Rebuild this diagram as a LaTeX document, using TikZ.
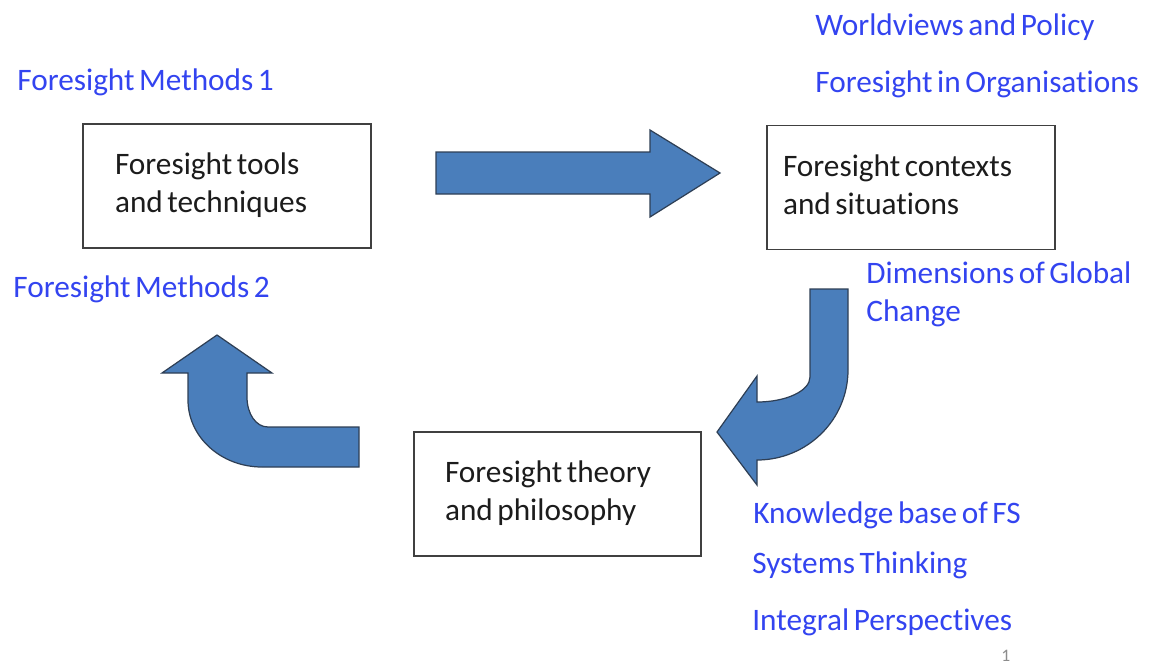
\documentclass[tikz,border=0pt]{standalone}
\usepackage{fontspec}
\setmainfont{Carlito}[Ligatures=NoCommon, WordSpace=0.65]
\usepackage{xcolor}
\usetikzlibrary{positioning}

\definecolor{topicblue}{HTML}{3344F0}
\definecolor{arrowfill}{HTML}{4A7EBB}
\definecolor{arrowline}{HTML}{2E3F55}
\definecolor{boxtext}{HTML}{1C1C1C}

\begin{document}
\begin{tikzpicture}[
    x=0.02cm, y=-0.02cm,
    stagebox/.style={draw=black!75, line width=0.8pt, rectangle, minimum height=2.48cm, align=left, text=boxtext, font=\fontsize{17.8}{21.6}\selectfont, execute at begin node={\spaceskip=0pt\xspaceskip=0pt\strut}, execute at end node=\strut},
    topic/.style={anchor=base west, inner sep=0pt, text=topicblue, font=\fontsize{17.8}{21.6}\selectfont, align=left},
    blockarrow/.style={fill=arrowfill, draw=arrowline, line width=0.7pt, line join=miter}
]
    \useasboundingbox (0,0) rectangle (1157,666);

    % Stages
    \node[stagebox, inner xsep=0.64cm, text width=4.48cm] (tools) at (227,186) {Foresight tools\\and techniques};
    \node[stagebox, inner xsep=0.32cm, text width=5.12cm] (contexts) at (911,187.5) {Foresight contexts\\and situations};
    \node[stagebox, inner xsep=0.62cm, text width=4.5cm] (theory) at (557.5,494) {Foresight theory\\and philosophy};

    % Block arrows
    \filldraw[blockarrow] (436,152) -- (650,152) -- (650,130) -- (720,173) -- (650,217) -- (650,194) -- (436,194) -- cycle;
    \filldraw[blockarrow] (810,289) -- (848,289) -- (848,370) .. controls (848,420) and (807,460) .. (757,460)
        -- (757,485) -- (717,432) -- (757,376) -- (757,402) .. controls (786,402) and (810,391) .. (810,377) -- cycle;
    \filldraw[blockarrow] (217,335) -- (272,373) -- (247,373) -- (247,397) .. controls (247,414) and (256,427) .. (268,427)
        -- (359,427) -- (359,467) -- (262,467) .. controls (221,467) and (188,437) .. (188,400) -- (188,373) -- (162,373) -- cycle;

    % Side topics
    \node[topic] (worldviews) at (815,35) {Worldviews and Policy};
    \node[topic] (organisations) at (815,92) {Foresight in Organisations};
    \node[topic] (methodsA) at (17,91) {Foresight Methods 1};
    \node[topic] (methodsB) at (13,297) {Foresight Methods 2};
    \node[topic] (dimensions) at (866,321) {Dimensions of Global\\Change};
    \node[topic] (knowledge) at (753,523) {Knowledge base of FS};
    \node[topic] (systems) at (752,573) {Systems Thinking};
    \node[topic] (integral) at (752,630) {Integral Perspectives};

    % Slide number
    \node[anchor=base west, inner sep=0pt, text=black!45, font=\fontsize{10}{12}\selectfont] (slidenum) at (1001,661) {1};

\end{tikzpicture}
\end{document}
